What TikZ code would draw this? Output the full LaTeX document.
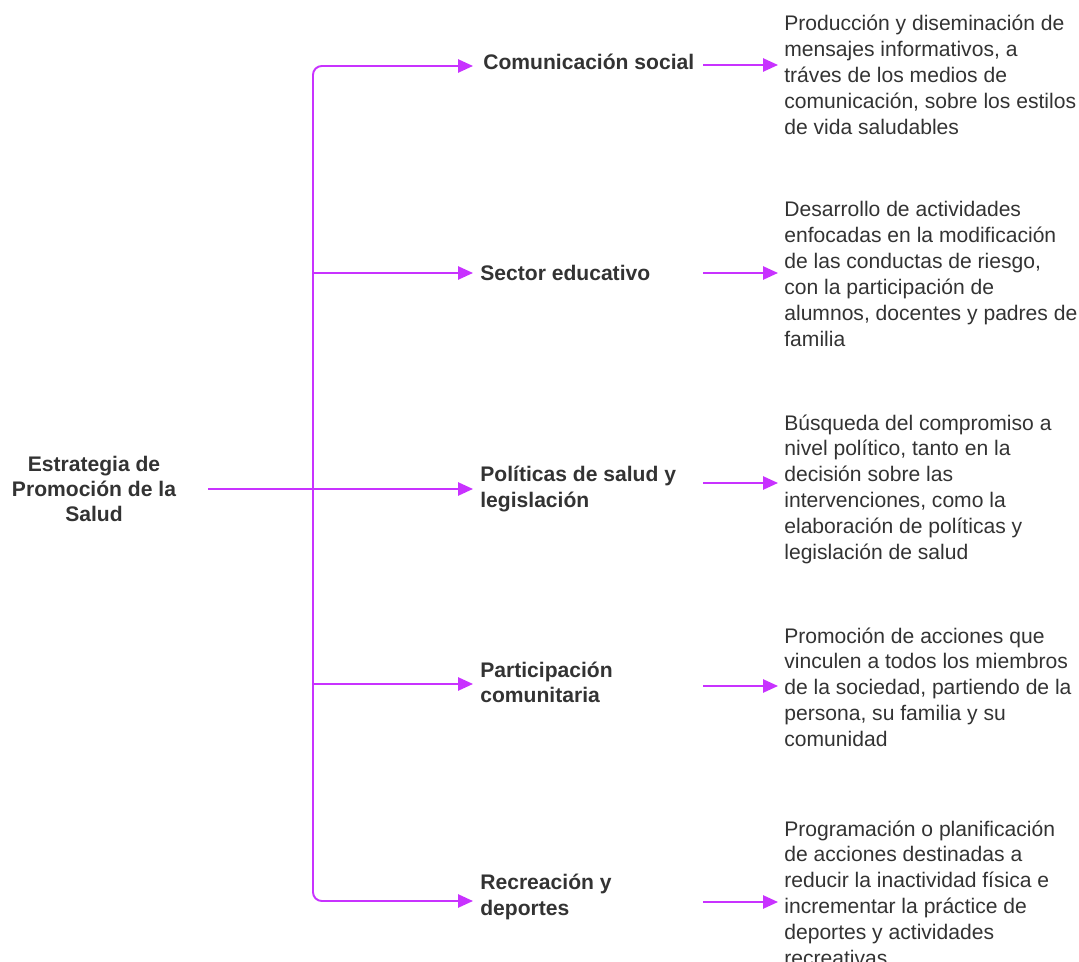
\documentclass[tikz,border=0pt]{standalone}
\usepackage{fontspec}
\setmainfont{Liberation Sans}
\usetikzlibrary{arrows.meta}
\definecolor{linea}{RGB}{200,50,255}
\definecolor{texto}{RGB}{51,51,51}

\begin{document}
\begin{tikzpicture}[x=0.02cm,y=-0.02cm,
  conn/.style={draw=linea,line width=1.1pt,-{Triangle[length=8.5pt,width=7.5pt]}},
  tema/.style={font=\bfseries\fontsize{12}{14.3}\selectfont,text=texto,align=left,
    anchor=west,inner xsep=0.14cm,inner ysep=0pt},
  desc/.style={font=\fontsize{12}{14.7}\selectfont,text=texto,align=left,
    anchor=west,inner xsep=0.12cm,inner ysep=0pt}]
  \useasboundingbox (0,0) rectangle (1079,962);
  \node[font=\bfseries\fontsize{12}{14.3}\selectfont,text=texto,align=center,
    minimum width=4.56cm,inner sep=0pt] (estrategia) at (94,489)
    {Estrategia de\\Promoción de la\\Salud};
  % temas
  \node[tema,inner xsep=0.2cm] (comunicacion) at (473,62) {Comunicación social};
  \node[tema] (sector) at (473,273) {Sector educativo};
  \node[tema] (politicas) at (473,489) {Políticas de salud y\\legislación};
  \node[tema] (participacion) at (473,682) {Participación\\comunitaria};
  \node[tema] (recreacion) at (473,897) {Recreación y\\deportes};
  % descripciones
  \node[desc] (dcomunicacion) at (778,75) {Producción y diseminación de\\mensajes informativos, a\\tráves de los medios de\\comunicación, sobre los estilos\\de vida saludables};
  \node[desc] (dsector) at (778,274) {Desarrollo de actividades\\enfocadas en la modificación\\de las conductas de riesgo,\\con la participación de\\alumnos, docentes y padres de\\familia};
  \node[desc] (dpoliticas) at (778,489) {Búsqueda del compromiso a\\nivel político, tanto en la\\decisión sobre las\\intervenciones, como la\\elaboración de políticas y\\legislación de salud};
  \node[desc] (dparticipacion) at (778,687) {Promoción de acciones que\\vinculen a todos los miembros\\de la sociedad, partiendo de la\\persona, su familia y su\\comunidad};
  \node[desc] (drecreacion) at (778,893) {Programación o planificación\\de acciones destinadas a\\reducir la inactividad física e\\incrementar la práctice de\\deportes y actividades\\recreativas};
  % llave
  \coordinate (trunk) at (313,489);
  \draw[conn] (estrategia.east) -- (politicas.west);
  \draw[conn,rounded corners=5pt] (trunk) |- (comunicacion.west |- 0,66);
  \draw[conn,rounded corners=5pt] (trunk) |- (recreacion.west |- 0,901);
  \draw[conn] (trunk |- sector.west) -- (sector.west);
  \draw[conn] (trunk |- 0,684) -- (participacion.west |- 0,684);
  % flechas a la derecha
  \foreach \n/\y in {comunicacion/65,sector/273,politicas/483,participacion/686,recreacion/902}{
    \coordinate (a\n) at (703,\y);
    \draw[conn] (a\n) -- (a\n -| d\n.west);
  }
\end{tikzpicture}
\end{document}
